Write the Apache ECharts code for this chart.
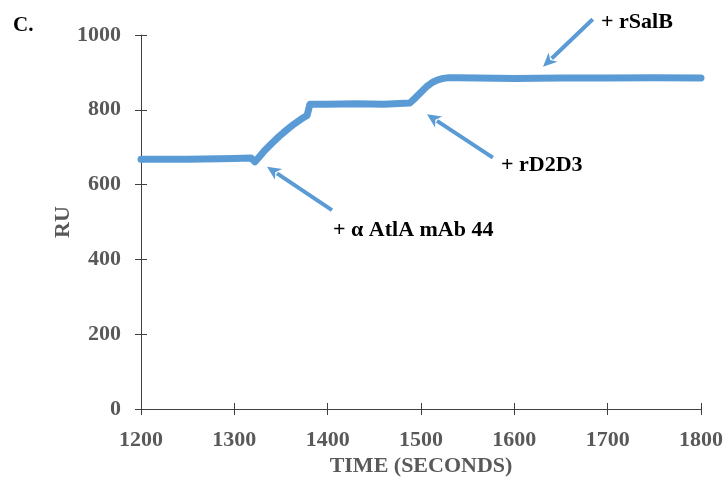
<!DOCTYPE html>
<html>
<head>
<meta charset="utf-8">
<script src="https://cdn.jsdelivr.net/npm/echarts@6/dist/echarts.min.js"></script>
<style>
  html, body { margin: 0; padding: 0; background: #fff; }
  #chart { width: 728px; height: 482px; }
</style>
</head>
<body>
<div id="chart"></div>
<script>
// Sensorgram: response units over time as each protein is injected
const timeSeconds = [1200, 1250, 1300, 1318, 1322, 1326, 1332, 1340, 1348, 1356, 1364, 1372, 1378, 1381,
  1400, 1430, 1460, 1488, 1494, 1500, 1506, 1512, 1518, 1524, 1530, 1540, 1600, 1650, 1700, 1750, 1800];
const responseRU = [668, 668, 670, 671, 661, 672, 690, 710, 729, 746, 762, 776, 785, 815,
  815, 816, 815, 818, 832, 847, 862, 873, 880, 884, 886, 886, 884, 885, 885, 886, 885];

const xTicks = { min: 1200, max: 1800, interval: 100 };
const yTicks = { min: 0, max: 1000, interval: 200 };

// Injection annotations: arrow from tail to head, label anchored at its left-middle (data units)
const injectionLabels = ['+ \u03b1 AtlA mAb 44', '+ rD2D3', '+ rSalB'];
const arrowTails = [[1404.6, 531.7], [1577, 672], [1684, 1042]];
const arrowHeads = [[1335, 648], [1506.4, 788], [1630.7, 915]];
const labelAnchors = [[1405.7, 478.8], [1585.7, 650.8], [1692.9, 1034]];

const BLUE = '#5B9BD5';
const AXIS = '#404040';
const GREY = '#595959';
const FONT = '"Liberation Serif", "Times New Roman", serif';

const chart = echarts.init(document.getElementById('chart'));

const baseAxis = {
  type: 'value',
  axisLine: { show: true, lineStyle: { color: AXIS, width: 1 } },
  splitLine: { show: false },
};
const plain = v => String(v);

chart.setOption({
  animation: false,
  title: {
    text: 'C.', left: 8, top: 10,
    textStyle: { fontFamily: FONT, fontWeight: 'bold', fontSize: 21, color: '#000' }
  },
  grid: { left: 141, right: 27, top: 35, bottom: 69, containLabel: false },
  xAxis: [
    Object.assign({}, baseAxis, xTicks, {
      name: 'TIME (SECONDS)', nameLocation: 'middle', nameGap: 46, nameMoveOverlap: false,
      nameTextStyle: { fontFamily: FONT, fontWeight: 'bold', fontSize: 22, color: GREY },
      axisTick: { show: true, length: 6, lineStyle: { color: AXIS } },
      axisLabel: { fontFamily: FONT, fontWeight: 'bold', fontSize: 22, color: GREY, margin: 20, formatter: plain }
    }),
    Object.assign({}, baseAxis, xTicks, {
      position: 'bottom',
      axisLine: { show: false },
      axisTick: { show: true, inside: true, length: 6, lineStyle: { color: AXIS } },
      axisLabel: { show: false }
    })
  ],
  yAxis: [
    Object.assign({}, baseAxis, yTicks, {
      name: 'RU', nameLocation: 'middle', nameGap: 67, nameRotate: 90, nameMoveOverlap: false,
      nameTextStyle: { fontFamily: FONT, fontWeight: 'bold', fontSize: 22, color: GREY },
      axisTick: { show: true, length: 6, lineStyle: { color: AXIS } },
      axisLabel: { fontFamily: FONT, fontWeight: 'bold', fontSize: 22, color: GREY, margin: 20, formatter: plain }
    }),
    Object.assign({}, baseAxis, yTicks, {
      position: 'left',
      axisLine: { show: false },
      axisTick: { show: true, inside: true, length: 6, lineStyle: { color: AXIS } },
      axisLabel: { show: false }
    })
  ],
  series: [{
    type: 'line',
    data: timeSeconds.map((t, i) => [t, responseRU[i]]),
    showSymbol: false,
    smooth: false,
    lineStyle: { color: BLUE, width: 7, cap: 'round', join: 'round' }
  }]
});

// Arrows and labels are placed through the axes' scales so they can sit above the plot area too
const toPx = c => chart.convertToPixel({ gridIndex: 0 }, c);
const graphics = [];
arrowTails.forEach((tail, i) => {
  const a = toPx(tail), b = toPx(arrowHeads[i]);
  const dx = b[0] - a[0], dy = b[1] - a[1];
  const len = Math.hypot(dx, dy), ux = dx / len, uy = dy / len;
  const headLen = 14, headHalf = 6.5;
  const base = [b[0] - ux * headLen, b[1] - uy * headLen];
  graphics.push({
    type: 'line', silent: true,
    shape: { x1: a[0], y1: a[1], x2: base[0] + ux * 2, y2: base[1] + uy * 2 },
    style: { stroke: BLUE, lineWidth: 4 }
  });
  graphics.push({
    type: 'polygon', silent: true,
    shape: { points: [b, [base[0] - uy * headHalf, base[1] + ux * headHalf], [base[0] + ux * 4, base[1] + uy * 4], [base[0] + uy * headHalf, base[1] - ux * headHalf]] },
    style: { fill: BLUE }
  });
});
labelAnchors.forEach((c, i) => {
  const p = toPx(c);
  graphics.push({
    type: 'text', silent: true, x: p[0], y: p[1],
    style: {
      text: injectionLabels[i], fill: '#000',
      font: 'bold 22px ' + FONT, textAlign: 'left', textVerticalAlign: 'middle'
    }
  });
});
chart.setOption({ graphic: graphics });
</script>
</body>
</html>
